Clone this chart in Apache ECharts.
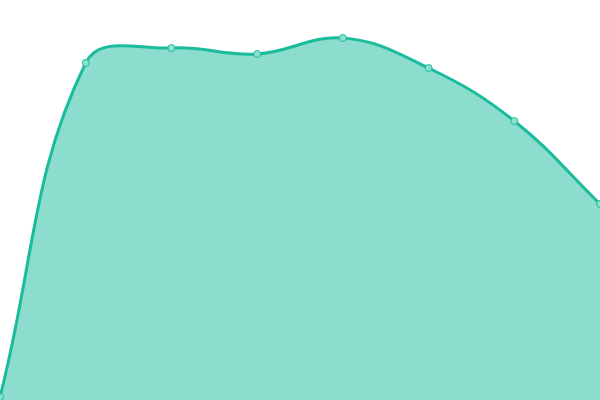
<!DOCTYPE html>
<html>
<head>
<meta charset="utf-8">
<script src="https://cdn.jsdelivr.net/npm/echarts@6/dist/echarts.min.js"></script>
<style>html,body{margin:0;padding:0;background:#fff}#c{width:600px;height:400px}</style>
</head>
<body>
<div id="c"></div>
<script>
const categories = ['A', 'B', 'C', 'D', 'E', 'F', 'G', 'H'];
const values = [3, 337, 352, 346, 362, 332, 279, 196];
const lineColor = '#1abc9c';
const fillColor = 'rgba(26,188,156,0.5)';
const pointFill = '#8ce1d0';
const tension = 0.4;

function renderCurve(params, api) {
  const pts = values.map((v, i) => api.coord([i, v]));
  const base = api.coord([0, 0])[1];
  const cs = params.coordSys;
  const clampX = x => Math.min(Math.max(x, cs.x), cs.x + cs.width);
  const clampY = y => Math.min(Math.max(y, cs.y), cs.y + cs.height);
  const cps = pts.map((p, i) => {
    const prev = pts[i - 1] || p;
    const next = pts[i + 1] || p;
    const d01 = Math.hypot(p[0] - prev[0], p[1] - prev[1]);
    const d12 = Math.hypot(next[0] - p[0], next[1] - p[1]);
    let s01 = d01 / (d01 + d12), s12 = d12 / (d01 + d12);
    if (isNaN(s01)) s01 = 0;
    if (isNaN(s12)) s12 = 0;
    const fa = s01 * tension, fb = s12 * tension;
    return {
      prev: [clampX(p[0] - fa * (next[0] - prev[0])), clampY(p[1] - fa * (next[1] - prev[1]))],
      next: [clampX(p[0] + fb * (next[0] - prev[0])), clampY(p[1] + fb * (next[1] - prev[1]))]
    };
  });
  let d = 'M' + pts[0][0] + ' ' + pts[0][1];
  for (let i = 1; i < pts.length; i++) {
    const a = cps[i - 1].next, b = cps[i].prev, p = pts[i];
    d += ' C' + a[0] + ' ' + a[1] + ' ' + b[0] + ' ' + b[1] + ' ' + p[0] + ' ' + p[1];
  }
  const last = pts[pts.length - 1];
  const area = d + ' L' + last[0] + ' ' + base + ' L' + pts[0][0] + ' ' + base + ' Z';
  return {
    type: 'group',
    children: [
      { type: 'path', shape: { pathData: area }, style: { fill: fillColor, stroke: null } },
      { type: 'path', shape: { pathData: d }, style: { fill: null, stroke: lineColor, lineWidth: 3 } }
    ]
  };
}

const chart = echarts.init(document.getElementById('c'));
chart.setOption({
  animation: false,
  grid: { left: 0, right: 0, top: 0, bottom: 0 },
  xAxis: { type: 'category', data: categories, boundaryGap: false, show: false },
  yAxis: { type: 'value', min: 0, max: 400, show: false },
  series: [{
    type: 'custom',
    data: [[0, 0]],
    renderItem: renderCurve,
    z: 1
  }, {
    type: 'line',
    data: values,
    symbol: 'circle',
    symbolSize: 7,
    clip: false,
    lineStyle: { width: 0, opacity: 0 },
    itemStyle: { color: pointFill, borderColor: lineColor, borderWidth: 1 },
    z: 3
  }]
});
</script>
</body>
</html>
